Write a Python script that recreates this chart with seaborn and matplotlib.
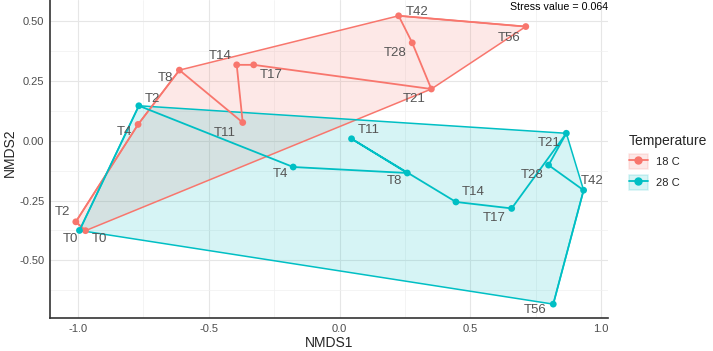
import numpy as np
import pandas as pd
import seaborn as sns
import matplotlib
matplotlib.use("Agg")
from matplotlib import pyplot as plt
from matplotlib.patches import Patch
from matplotlib.lines import Line2D
from matplotlib.ticker import MultipleLocator

# NMDS coordinates
times = ["T0", "T2", "T4", "T8", "T11", "T14", "T17", "T21", "T28", "T42", "T56"]
x_18 = [-0.971, -1.008, -0.770, -0.612, -0.370, -0.393, -0.328, 0.351, 0.278, 0.226, 0.712]
y_18 = [-0.376, -0.339, 0.068, 0.295, 0.076, 0.317, 0.317, 0.216, 0.409, 0.522, 0.477]
x_28 = [-0.994, -0.767, -0.177, 0.259, 0.046, 0.445, 0.658, 0.867, 0.799, 0.933, 0.817]
y_28 = [-0.375, 0.146, -0.110, -0.135, 0.008, -0.256, -0.283, 0.031, -0.102, -0.207, -0.683]
temps = ["18 C", "28 C"]
stress = 0.064

# label nudges in pixels (dx, dy)
off_18 = [(14, -8), (-13, 10), (-14, -8), (-14, -8), (-18, -10), (-17, 9), (17, -10),
          (-17, -10), (-17, -10), (18, 4), (-17, -11)]
off_28 = [(-9, -9), (14, 7), (-13, -7), (-13, -8), (17, 9), (17, 10), (-17, -10),
          (-17, -10), (-16, -10), (9, 9), (-18, -6)]

df = pd.DataFrame({
    "Time": times * 2,
    "NMDS1": x_18 + x_28,
    "NMDS2": y_18 + y_28,
    "Temperature": [temps[0]] * len(times) + [temps[1]] * len(times),
})
pal = {"18 C": "#F8766D", "28 C": "#00BFC4"}


def hull(pts):
    pts = sorted(map(tuple, pts))
    def cross(o, a, b):
        return (a[0]-o[0])*(b[1]-o[1]) - (a[1]-o[1])*(b[0]-o[0])
    lo, up = [], []
    for p in pts:
        while len(lo) >= 2 and cross(lo[-2], lo[-1], p) <= 0:
            lo.pop()
        lo.append(p)
    for p in reversed(pts):
        while len(up) >= 2 and cross(up[-2], up[-1], p) <= 0:
            up.pop()
        up.append(p)
    return np.array(lo[:-1] + up[:-1])


sns.set_theme(style="white")
plt.rcParams["font.family"] = ["Liberation Sans", "DejaVu Sans"]
fig = plt.figure(figsize=(7.13, 3.51), dpi=100)
ax = fig.add_axes([0.070, 0.094, 0.783, 0.906])

for t in temps:
    sub = df[df.Temperature == t]
    h = hull(sub[["NMDS1", "NMDS2"]].values)
    ax.fill(h[:, 0], h[:, 1], facecolor=pal[t], alpha=0.16, edgecolor="none", zorder=1)
    ax.fill(h[:, 0], h[:, 1], facecolor="none", edgecolor=pal[t], lw=1.1, zorder=2)

sns.lineplot(data=df, x="NMDS1", y="NMDS2", hue="Temperature", units="Temperature",
             estimator=None, sort=False, palette=pal, lw=1.3, legend=False, ax=ax, zorder=3)
sns.scatterplot(data=df, x="NMDS1", y="NMDS2", hue="Temperature", palette=pal, s=24,
                edgecolor="none", legend=False, ax=ax, zorder=4)

for xs, ys, offs in [(x_18, y_18, off_18), (x_28, y_28, off_28)]:
    for lab, xx, yy, o in zip(times, xs, ys, offs):
        ax.annotate(lab, (xx, yy), xytext=o, textcoords="offset pixels",
                    ha="center", va="center", fontsize=9.5, color="#555555", zorder=5)

ax.set_xlim(-1.107, 1.027)
ax.set_ylim(-0.741, 0.588)
ax.xaxis.set_minor_locator(MultipleLocator(0.25))
ax.yaxis.set_minor_locator(MultipleLocator(0.125))
ax.set_xticks([-1.0, -0.5, 0.0, 0.5, 1.0])
ax.set_xticklabels(["-1.0", "-0.5", "0.0", "0.5", "1.0"])
ax.set_yticks([-0.5, -0.25, 0.0, 0.25, 0.5])
ax.set_yticklabels(["-0.50", "-0.25", "0.00", "0.25", "0.50"])
ax.grid(True, which="major", color="#e6e6e6", lw=0.8)
ax.grid(True, which="minor", color="#f0f0f0", lw=0.5)
ax.set_axisbelow(True)
ax.tick_params(which="both", length=0, labelsize=8, labelcolor="#4d4d4d", pad=4)
for s in ["top", "right"]:
    ax.spines[s].set_visible(False)
for s in ["left", "bottom"]:
    ax.spines[s].set_color("#333333")
    ax.spines[s].set_linewidth(1.2)
ax.set_xlabel("NMDS1", fontsize=10, labelpad=2)
ax.set_ylabel("NMDS2", fontsize=10, va="center")
ax.yaxis.set_label_coords(-0.072, 0.52)

ax.text(1.0, 0.995, "Stress value = %.3f" % stress, transform=ax.transAxes,
        ha="right", va="top", fontsize=7.7, color="black")

handles = [(Patch(facecolor=pal[t], alpha=0.16, edgecolor=pal[t], lw=1.1),
            Line2D([], [], color=pal[t], lw=1.3, marker="o", ms=5)) for t in temps]
leg = fig.legend(handles, temps, title="Temperature", loc="upper left",
                 bbox_to_anchor=(629 / 713, 1 - 134 / 351), frameon=False, fontsize=8,
                 title_fontsize=10, handlelength=1.7, handleheight=1.7,
                 labelspacing=0.55, handletextpad=0.7, borderpad=0, borderaxespad=0)
leg._legend_box.align = "left"

fig.savefig("out.png", dpi=100)
